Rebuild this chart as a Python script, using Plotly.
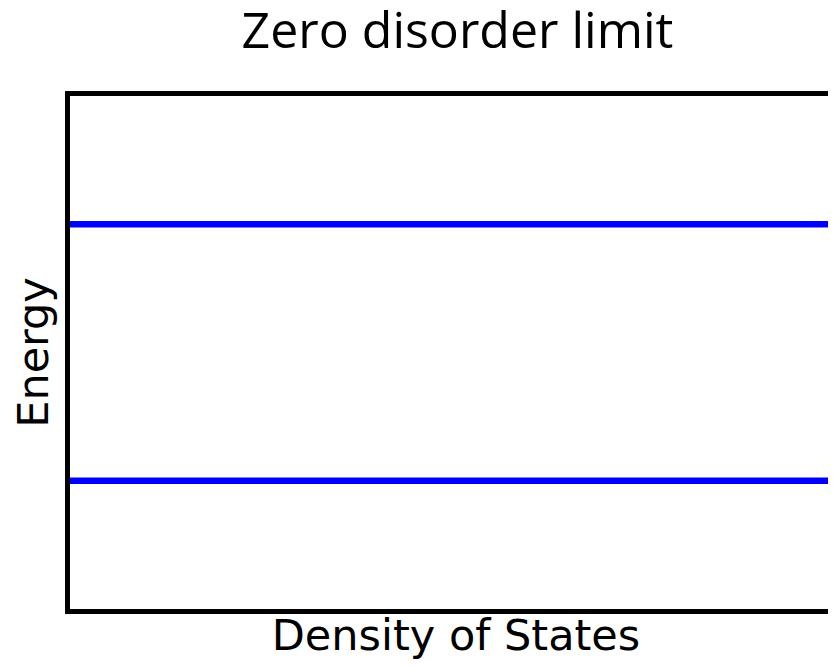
import plotly.graph_objects as go

title_text = "Zero disorder limit"
x_label = "Density of States"
y_label = "Energy"
energy_levels = [0.25, 0.75]
dos_extent = [0, 1]

fig = go.Figure()
for e in energy_levels:
    fig.add_trace(go.Scatter(x=dos_extent, y=[e, e], mode="lines",
                             line=dict(color="#0000ff", width=6.5),
                             showlegend=False, hoverinfo="skip"))

title_family = "Open Sans, Noto Sans, sans-serif"
label_family = "DejaVu Sans, sans-serif"
fig.update_layout(
    width=834, height=658,
    margin=dict(l=62, r=0, t=88, b=57),
    paper_bgcolor="white", plot_bgcolor="white",
    title=dict(text=title_text, x=0.539, xanchor="center", y=0.966, yanchor="middle",
               font=dict(family=title_family, size=50, color="black")),
    font=dict(family=label_family, color="black"),
)
fig.update_xaxes(range=[0, 1], showline=True, mirror=True, linecolor="black", linewidth=4.5,
                 showticklabels=False, ticks="", showgrid=False, zeroline=False,
                 title=dict(text=x_label, font=dict(size=43), standoff=9))
fig.update_yaxes(range=[0, 1], showline=True, mirror=False, linecolor="black", linewidth=4.5,
                 showticklabels=False, ticks="", showgrid=False, zeroline=False,
                 title=dict(text=y_label, font=dict(size=43), standoff=12))
fig.write_html("out.html")
